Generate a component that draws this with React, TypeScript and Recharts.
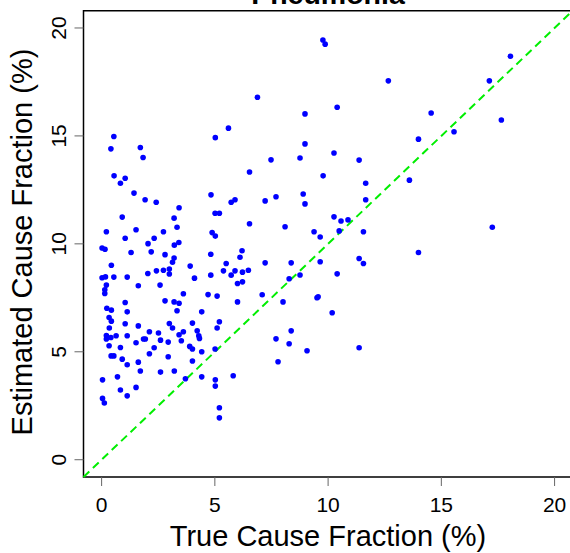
import { ReferenceArea, ReferenceLine, Scatter, ScatterChart, XAxis, YAxis } from "recharts"

const trueCF = [
  9.77, 9.87, 6.88, 10.4, 8.98, 5.6, 5.02, 0.54, 8.98, 0.41, 1.71,
  18.05, 12.66, 17.12, 14.55, 17.65, 15.56, 13.99, 11.37, 13.59, 11.66, 11.66, 11.56, 17.25, 13.99, 11.37, 11.56, 11.37,
  1.83, 0.55, 1.04, 0.83, 1.43, 1.92, 2.41, 3.42, 0.91, 3.2, 3.33, 0.21, 1.52, 1.04, 2.73, 2.32, 2.05, 3.41, 3.21,
  0.02, 0.15, 1.3, 2.19, 2.8, 3.2, 4.83, 5.72, 5.89, 6.53, 5.01, 5.2, 4.88, 5.02, 6.53, 6.2, 6.11, 4.82,
  3.13, 0.43, 3.91, 5.5, 0.02, 0.17, 0.54, 1.13, 2.04, 2.42, 2.73, 2.99, 2.99, 4.1, 4.82, 5.38, 5.89, 6.22,
  6.0, 6.22, 6.48, 5.72, 0.21, 0.14, 0.14, 1.62, 2.58, 3.61, 4.7, 5.1, 1.04, 2.8, 3.2, 3.42, 6.0,
  0.23, 0.43, 1.13, 3.33, 4.42, 0.33, 0.43, 1.04, 1.62, 2.99, 3.13, 4.01, 5.2, 5.1, 0.34, 2.11, 2.51, 3.61,
  3.42, 4.22, 0.21, 0.21, 0.41, 0.64, 1.13, 1.52, 1.85, 1.93, 2.6, 2.94, 3.52, 4.29, 4.32, 0.33, 0.83, 2.32,
  3.89, 4.01, 5.01, 4.42, 0.42, 0.54, 2.11, 2.94, 0.91, 1.62, 4.01, 1.13, 1.71, 2.6, 3.21, 0.04, 0.7, 3.7,
  4.42, 5.02, 5.02, 5.81, 1.52, 0.83, 1.13, 0.04, 0.12, 5.2, 5.2,
  7.48, 8.76, 10.26, 9.78, 7.22, 7.7, 8.9, 8.98, 8.1, 10.26, 10.57, 10.88, 10.49, 9.38, 9.65, 7.22, 8.37,
  9.65, 8.76, 8.28, 10.4, 7.09, 8.01, 9.56, 9.51, 10.18, 7.7, 8.37, 8.28, 9.07, 7.79,
]

const estimatedCF = [
  19.44, 19.25, 16.79, 16.33, 16.02, 15.36, 14.92, 14.97, 14.63, 14.4, 14.46,
  18.69, 17.55, 17.55, 16.06, 15.74, 15.19, 14.85, 13.88, 12.95, 12.81, 12.04, 10.56, 10.77, 9.6, 9.32, 9.09, 5.19,
  14.0, 13.15, 13.04, 12.81, 12.35, 12.04, 11.93, 11.67, 11.24, 11.19, 10.77, 10.56, 10.65, 10.26, 10.56, 10.26, 10.01, 10.06, 9.94,
  9.81, 9.75, 9.6, 9.63, 9.5, 9.34, 12.27, 11.93, 12.04, 13.33, 11.42, 11.42, 10.52, 10.36, 10.93, 9.68, 9.38, 9.52,
  9.15, 9.01, 8.97, 9.09, 8.43, 8.47, 8.46, 8.46, 8.63, 8.75, 8.78, 8.83, 8.6, 8.41, 8.55, 8.75, 8.75, 8.69,
  8.16, 8.24, 8.78, 8.55, 8.09, 7.87, 7.7, 8.06, 8.09, 7.69, 7.65, 7.58, 7.28, 7.36, 7.31, 7.25, 7.31,
  7.02, 6.93, 6.85, 6.9, 6.85, 6.59, 6.42, 6.3, 6.2, 6.31, 6.1, 6.33, 6.39, 6.1, 6.1, 5.93, 5.87, 5.93,
  5.79, 5.97, 5.75, 5.59, 5.66, 5.74, 5.74, 5.42, 5.59, 5.59, 5.54, 5.45, 5.51, 5.74, 5.62, 5.28, 5.2, 5.19,
  5.25, 5.13, 5.13, 5.0, 4.81, 4.81, 4.91, 4.77, 4.66, 4.52, 4.57, 4.4, 4.11, 4.06, 4.11, 3.7, 3.84, 3.75,
  3.84, 3.7, 3.41, 3.89, 3.35, 3.23, 2.96, 2.84, 2.63, 2.41, 1.94,
  13.89, 13.98, 14.21, 13.15, 11.99, 12.18, 12.31, 11.85, 10.79, 11.25, 11.06, 11.11, 10.6, 10.56, 10.32, 9.12, 9.12,
  9.17, 8.56, 8.38, 8.61, 7.64, 7.31, 7.55, 7.5, 6.81, 5.6, 5.97, 5.37, 5.05, 4.54,
]

const axisTicks = [0, 5, 10, 15, 20]
// R-style 4% padding around 0..20
const lim: [number, number] = [-0.8, 20.8]

const points = trueCF.map((x, i) => ({ x, y: estimatedCF[i] }))

const font = "'Liberation Sans', Arial, Helvetica, sans-serif"

const YTick = (props: any) => {
  const { x, y, payload } = props
  return (
    <text
      x={x}
      y={y}
      transform={`rotate(-90 ${x} ${y})`}
      textAnchor="middle"
      fontSize={21}
      fontFamily={font}
      fill="#000"
    >
      {payload.value}
    </text>
  )
}

export default function App() {
  return (
    <div style={{ position: "absolute", left: 0, top: 0, width: 570, height: 553, overflow: "hidden", background: "#fff" }}>
      <ScatterChart width={580} height={553} margin={{ top: 10.7, right: 7.3, bottom: 0, left: 0 }}>
        <XAxis
          type="number"
          dataKey="x"
          domain={lim}
          ticks={axisTicks}
          allowDataOverflow
          axisLine={false}
          tickSize={9}
          tickMargin={11}
          tickLine={{ stroke: "#666" }}
          height={76}
          tick={{ fontSize: 21, fontFamily: font, fill: "#000" }}
        />
        <YAxis
          type="number"
          dataKey="y"
          domain={lim}
          ticks={axisTicks}
          allowDataOverflow
          axisLine={false}
          tickSize={9}
          tickMargin={8.5}
          tickLine={{ stroke: "#666" }}
          width={83.5}
          tick={<YTick />}
        />
        <ReferenceArea x1={lim[0]} x2={lim[1]} y1={lim[0]} y2={lim[1]} fill="none" stroke="#000" strokeWidth={1.5} ifOverflow="visible" />
        <Scatter
          data={points}
          isAnimationActive={false}
          shape={(p: any) => <circle cx={p.cx} cy={p.cy} r={2.8} fill="#0000ff" />}
        />
        <ReferenceLine
          segment={[{ x: lim[0], y: lim[0] }, { x: lim[1], y: lim[1] }]}
          stroke="#00ee00"
          strokeWidth={2}
          strokeDasharray="8 5"
          ifOverflow="visible"
        />
      </ScatterChart>
      <svg width={570} height={553} style={{ position: "absolute", left: 0, top: 0, pointerEvents: "none" }}>
        <text x={328} y={4} textAnchor="middle" fontSize={28.5} fontWeight="bold" fontFamily={font} fill="#000">
          Pneumonia
        </text>
        <text x={328} y={546} textAnchor="middle" fontSize={29} fontFamily={font} fill="#000">
          True Cause Fraction (%)
        </text>
        <text x={32} y={242} transform="rotate(-90 32 242)" textAnchor="middle" fontSize={29} fontFamily={font} fill="#000">
          Estimated Cause Fraction (%)
        </text>
      </svg>
    </div>
  )
}
